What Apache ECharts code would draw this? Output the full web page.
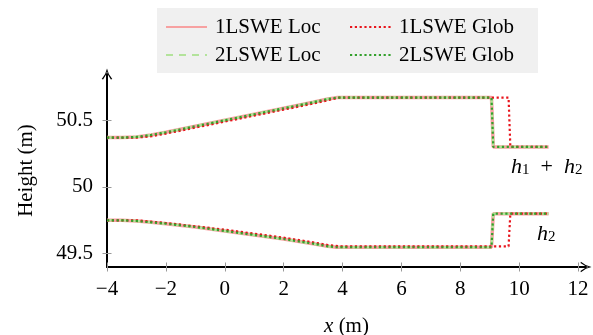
<!DOCTYPE html>
<html>
<head>
<meta charset="utf-8">
<script src="https://cdn.jsdelivr.net/npm/echarts@6/dist/echarts.min.js"></script>
<style>
  html, body { margin: 0; padding: 0; background: #fff; }
  #chart { width: 593px; height: 335px; }
</style>
</head>
<body>
<div id="chart"></div>
<script>
// ticks
const xTicks = [-4, -2, 0, 2, 4, 6, 8, 10, 12];
const yTicks = [49.5, 50, 50.5];

// local solutions (1LSWE and 2LSWE Loc, 2LSWE Glob lie on top of each other)
const xLoc   = [-4, -3.5, -3, -2.5, -2, -1, 0, 1, 2, 3, 3.5, 3.8, 9.06, 9.12, 11];
const topLoc = [50.37, 50.37, 50.375, 50.39, 50.41, 50.455, 50.5, 50.545, 50.59, 50.635, 50.66, 50.67, 50.67, 50.3, 50.3];
const botLoc = [49.75, 49.75, 49.745, 49.735, 49.725, 49.7, 49.67, 49.64, 49.61, 49.575, 49.555, 49.548, 49.548, 49.8, 49.8];

// 1LSWE global solution, slightly behind
const xGlob   = [-4, -3.5, -3, -2.5, -2, -1, 0, 1, 2, 3, 3.5, 3.9, 9.64, 9.7, 11];
const topGlob = [50.37, 50.37, 50.37, 50.38, 50.4, 50.445, 50.49, 50.535, 50.58, 50.625, 50.65, 50.67, 50.67, 50.3, 50.3];
const botGlob = [49.75, 49.75, 49.75, 49.74, 49.73, 49.705, 49.68, 49.65, 49.62, 49.585, 49.565, 49.555, 49.555, 49.8, 49.8];

const FONT = 'Liberation Serif';
const pairs = (xs, ys) => xs.map((x, i) => [x, ys[i]]);

function curve(name, xs, ys, style) {
  return {
    name, type: 'line', data: pairs(xs, ys),
    symbol: 'none', showSymbol: false, animation: false,
    lineStyle: style, itemStyle: { color: style.color },
  };
}

const s1Loc  = { color: '#f7a1a1', width: 3.5, type: 'solid' };
const s2Loc  = { color: '#b3e39b', width: 2.5, type: [7, 6] };
const s1Glob = { color: '#e8141c', width: 2.2, type: [2.2, 2.6] };
const s2Glob = { color: '#33a02c', width: 2.2, type: [2.2, 2.6] };

const chart = echarts.init(document.getElementById('chart'));

const labelStyle = { fontFamily: FONT, fontSize: 21, color: '#000' };
const minus = v => (v < 0 ? '\u2212' + (-v) : String(v));
// open latex-like arrow head
const arrowHead = 'path://M5,0 Q6,5.5 10,10 L8.7,10.4 Q5.6,6.5 5,2.6 Q4.4,6.5 1.3,10.4 L0,10 Q4,5.5 5,0 Z';
const tickStyle = { color: '#999', width: 1 };

const baseX = {
  type: 'value', min: -4, max: 12.27, position: 'bottom',
  splitLine: { show: false },
};
const baseY = {
  type: 'value', min: 49.4, max: 50.847, position: 'left',
  splitLine: { show: false },
};

const legendCommon = {
  orient: 'vertical', top: 16.5, padding: 0, itemGap: 7,
  itemWidth: 41, itemHeight: 21,
  itemStyle: { opacity: 0 },
  textStyle: { ...labelStyle, lineHeight: 21, padding: [0, 0, 0, 3] },
};

chart.setOption({
  animation: false,
  grid: { left: 107, right: 7, top: 74, bottom: 68, outerBoundsMode: 'none', containLabel: false },
  xAxis: [
    {
      ...baseX,
      axisLine: { onZero: false, lineStyle: { color: '#000', width: 2 }, symbol: ['none', arrowHead], symbolSize: [11, 11] },
      axisTick: { length: 4.5, customValues: xTicks, lineStyle: tickStyle },
      axisLabel: { ...labelStyle, customValues: xTicks, margin: 12, formatter: minus },
      name: '{i|x} (m)', nameLocation: 'middle', nameGap: 49,
      nameTextStyle: { ...labelStyle, rich: { i: { ...labelStyle, fontStyle: 'italic' } } },
    },
    {
      ...baseX,
      axisLine: { show: false, onZero: false },
      axisTick: { inside: true, length: 4.5, customValues: xTicks, lineStyle: tickStyle },
      axisLabel: { show: false },
    },
  ],
  yAxis: [
    {
      ...baseY,
      axisLine: { onZero: false, lineStyle: { color: '#000', width: 2 }, symbol: ['none', arrowHead], symbolSize: [11, 11] },
      axisTick: { length: 4.5, customValues: yTicks, lineStyle: tickStyle },
      axisLabel: { ...labelStyle, customValues: yTicks, margin: 14 },
      name: 'Height (m)', nameLocation: 'middle', nameGap: 70,
      nameTextStyle: labelStyle,
    },
    {
      ...baseY,
      axisLine: { show: false, onZero: false },
      axisTick: { inside: true, length: 4.5, customValues: yTicks, lineStyle: tickStyle },
      axisLabel: { show: false },
    },
  ],
  legend: [
    { ...legendCommon, left: 165, data: ['1LSWE Loc', '2LSWE Loc'] },
    { ...legendCommon, left: 349, data: ['1LSWE Glob', '2LSWE Glob'] },
  ],
  graphic: [
    { type: 'rect', z: 0, shape: { x: 157, y: 8, width: 381, height: 65 }, style: { fill: '#f0f0f0' } },
    {
      type: 'text', x: 511, y: 166,
      style: {
        text: '{i|h}{s|1}{r|  +  }{i|h}{s|2}', verticalAlign: 'middle',
        rich: {
          i: { fontFamily: FONT, fontSize: 22, fontStyle: 'italic', lineHeight: 24, verticalAlign: 'bottom' },
          s: { fontFamily: FONT, fontSize: 15, lineHeight: 14, verticalAlign: 'bottom' },
          r: { fontFamily: FONT, fontSize: 22, lineHeight: 24, verticalAlign: 'bottom' },
        },
      },
    },
    {
      type: 'text', x: 537, y: 233,
      style: {
        text: '{i|h}{s|2}', verticalAlign: 'middle',
        rich: {
          i: { fontFamily: FONT, fontSize: 22, fontStyle: 'italic', lineHeight: 24, verticalAlign: 'bottom' },
          s: { fontFamily: FONT, fontSize: 15, lineHeight: 14, verticalAlign: 'bottom' },
        },
      },
    },
  ],
  series: [
    curve('1LSWE Loc', xLoc, topLoc, s1Loc),
    curve('1LSWE Loc', xLoc, botLoc, s1Loc),
    curve('2LSWE Loc', xLoc, topLoc, s2Loc),
    curve('2LSWE Loc', xLoc, botLoc, s2Loc),
    curve('1LSWE Glob', xGlob, topGlob, s1Glob),
    curve('1LSWE Glob', xGlob, botGlob, s1Glob),
    curve('2LSWE Glob', xLoc, topLoc, s2Glob),
    curve('2LSWE Glob', xLoc, botLoc, s2Glob),
  ],
});
</script>
</body>
</html>
